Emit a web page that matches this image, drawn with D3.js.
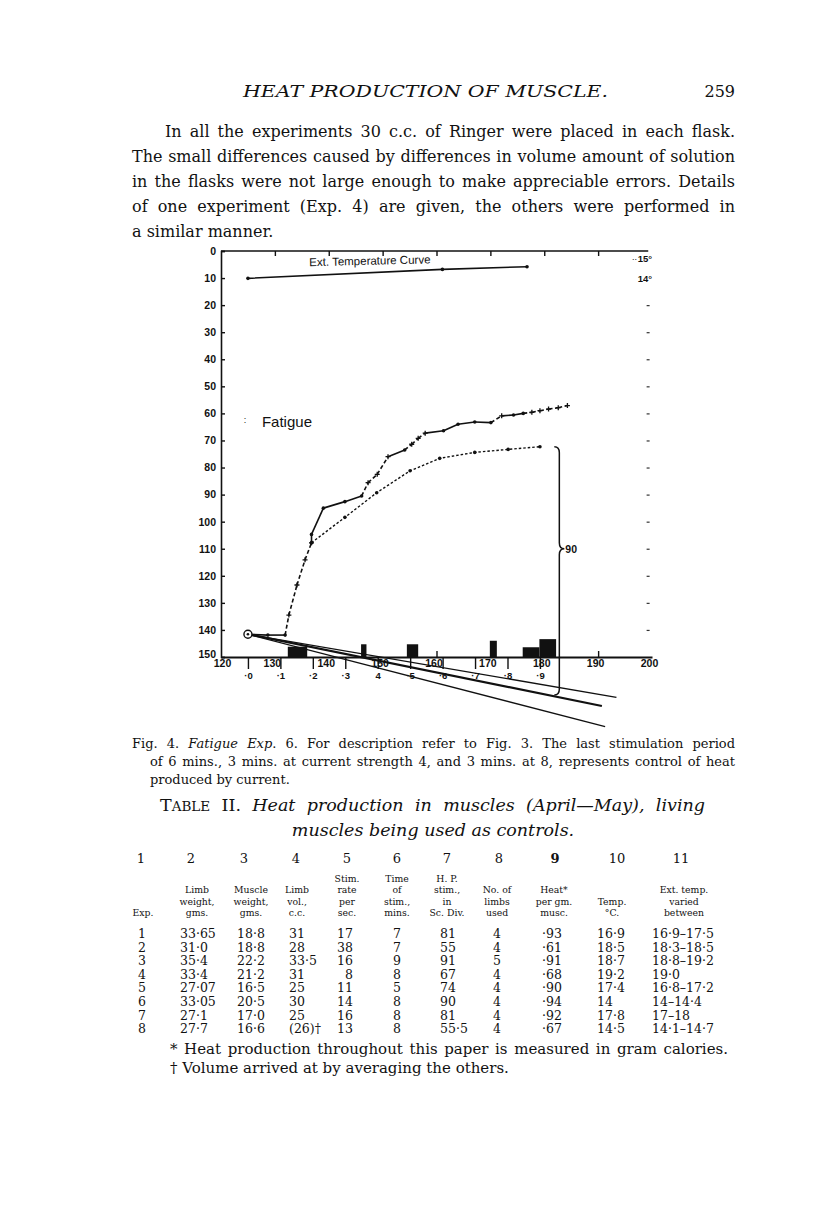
<!DOCTYPE html>
<html><head><meta charset="utf-8">
<script src="https://cdn.jsdelivr.net/npm/d3@7"></script>
<style>body{margin:0;background:#fff;} svg{display:block;} text{fill:#111;}</style>
</head><body>
<svg id="c" width="816" height="1221"></svg>
<script>
// ---------------- data ----------------
const yTicks = [0,10,20,30,40,50,60,70,80,90,100,110,120,130,140,150];
const xTicks = [120,130,140,150,160,170,180,190,200];
const topTicks = [130,140,150,160,170,180,190];
const subTicks = ["·0","·1","·2","·3","4","·5","·6","·7","·8","·9"];
const rightTempLabels = ["15°","14°"];
const rightTempY = [3.9, 11.3];

const tempX = [125, 161.1, 176.8];
const tempY = [10.1, 6.8, 5.8];

// common start (origin -> rise)
const riseX = [125, 128.7, 131.9, 132.6, 134.1, 135.6, 136.8];
const riseY = [141.6, 141.9, 141.9, 134.5, 123.4, 114.1, 107.8];
const riseSeg = ["", "solid", "solid", "dash", "dash", "dash", "dash"];

// upper curve
const upperX = [136.8,136.8,139.0,143.0,146.1,147.3,149.0,151.0,154.1,155.4,156.6,157.9,161.3,164.0,167.1,170.1,172.1,174.3,176.1,177.7,179.2,180.8,182.6,184.3];
const upperY = [107.8,104.7,95.0,92.6,90.5,85.6,82.5,76.0,73.5,71.4,69.2,67.3,66.4,64.0,63.2,63.4,60.9,60.6,60.0,59.6,59.0,58.4,57.9,57.1];
const upperSeg = ["","solid","solid","solid","solid","dash","dash","dash","solid","dash","dash","dash","solid","solid","solid","solid","dash","solid","solid","dash","dash","dash","dash","dash"];

// lower dotted curve
const lowerX = [136.8,143.0,148.9,155.1,160.6,167.1,173.3,179.2];
const lowerY = [107.8,98.4,89.3,81.2,76.6,74.4,73.3,72.3];

// stimulation bars [x0, x1, top]
const barX0 = [132.4,146.0,154.5,169.9,176.0,179.1];
const barX1 = [136.0,147.0,156.6,171.2,179.1,182.2];
const barTop = [146.2,145.3,145.3,144.0,146.4,143.4];

// current-strength lines from origin
const fanEndX = [193.4,190.7,191.3];
const fanEndY = [164.9,168.1,175.7];
const fanWidth = [1.3,2.2,1.3];

// brace
const braceX = 182.8, braceTop = 72.3, braceMid = 110, braceBottom = 164;
const braceLabel = "90";

// table
const colNums = ["1","2","3","4","5","6","7","8","9","10","11"];
const colHeads = [["Exp."],["Limb","weight,","gms."],["Muscle","weight,","gms."],["Limb","vol.,","c.c."],
  ["Stim.","rate","per","sec."],["Time","of","stim.,","mins."],["H. P.","stim.,","in","Sc. Div."],
  ["No. of","limbs","used"],["Heat*","per gm.","musc."],["Temp.","°C."],["Ext. temp.","varied","between"]];
const expNo = ["1","2","3","4","5","6","7","8"];
const limbWeight = ["33·65","31·0","35·4","33·4","27·07","33·05","27·1","27·7"];
const muscleWeight = ["18·8","18·8","22·2","21·2","16·5","20·5","17·0","16·6"];
const limbVol = ["31","28","33·5","31","25","30","25","(26)†"];
const stimRate = ["17","38","16","8","11","14","16","13"];
const stimTime = ["7","7","9","8","5","8","8","8"];
const hpStim = ["81","55","91","67","74","90","81","55·5"];
const limbsUsed = ["4","4","5","4","4","4","4","4"];
const heatPerGm = ["·93","·61","·91","·68","·90","·94","·92","·67"];
const tempC = ["16·9","18·5","18·7","19·2","17·4","14","17·8","14·5"];
const extTemp = ["16·9–17·5","18·3–18·5","18·8–19·2","19·0","16·8–17·2","14–14·4","17–18","14·1–14·7"];

const paraLines = [
  "In all the experiments 30 c.c. of Ringer were placed in each flask.",
  "The small differences caused by differences in volume amount of solution",
  "in the flasks were not large enough to make appreciable errors. Details",
  "of one experiment (Exp. 4) are given, the others were performed in",
  "a similar manner."];

// ---------------- drawing ----------------
const svg = d3.select("#c");
svg.append("rect").attr("width",816).attr("height",1221).attr("fill","#fff");

const serif = "'DejaVu Serif', 'Liberation Serif', serif";
const sans = "'Liberation Sans', Arial, sans-serif";

function fit(t, x0, x1) {
  const n = t.node();
  const w = n.getComputedTextLength();
  const sp = (n.textContent.match(/ /g) || []).length;
  const ws = sp > 0 ? (x1 - x0 - w) / sp : 0;
  if (ws >= -0.5) t.style("word-spacing", ws + "px");
  else t.attr("textLength", x1 - x0).attr("lengthAdjust", "spacingAndGlyphs");
  return t;
}

// header
svg.append("text").attr("x",243).attr("y",97).attr("font-family",serif).attr("font-style","italic")
  .attr("font-size",16).attr("textLength",365).attr("lengthAdjust","spacingAndGlyphs").text("HEAT PRODUCTION OF MUSCLE.");
svg.append("text").attr("x",735).attr("y",97).attr("text-anchor","end").attr("font-family",serif)
  .attr("font-size",16).text("259");

// paragraph
const paraX0 = [165,132,132,132,132];
paraLines.forEach((s,i) => {
  const t = svg.append("text").attr("x",paraX0[i]).attr("y",137 + i*25).attr("font-family",serif)
    .attr("font-size",16).text(s);
  if (i < paraLines.length-1) fit(t, paraX0[i], 735);
});

// ---------------- chart ----------------
const x = d3.scaleLinear().domain([120,200]).range([221,652]);
const y = d3.scaleLinear().domain([0,150]).range([251,657]);
const sx = d3.scaleLinear().domain([0,9]).range([x(125), x(179.2)]);
const g = svg.append("g");

// left axis
const ay = g.append("g").attr("transform",`translate(${x(120)},0)`)
  .call(d3.axisLeft(y).tickValues(yTicks).tickSize(-4).tickPadding(5).tickFormat(d3.format("d")));
ay.select(".domain").attr("stroke","#111").attr("stroke-width",1.6);
ay.selectAll(".tick line").attr("stroke","#111").attr("stroke-width",1.4);
ay.selectAll(".tick text").attr("font-family",sans).attr("font-weight","bold").attr("font-size",10.5).attr("fill","#111")
  .attr("dy", d => d === 150 ? "0.05em" : "0.32em");

// top axis
const at = g.append("g").attr("transform",`translate(0,${y(0)})`)
  .call(d3.axisTop(x).tickValues(topTicks).tickSize(-5).tickFormat(""));
at.select(".domain").attr("d",`M${x(120)},0H${x(199.3)}`).attr("stroke","#111").attr("stroke-width",1.6);
at.selectAll(".tick line").attr("stroke","#111").attr("stroke-width",1.4);

// right small ticks
const ar = g.append("g").attr("transform",`translate(${x(199)},0)`)
  .call(d3.axisRight(y).tickValues(yTicks.filter(v => v >= 20 && v <= 140)).tickSize(3).tickFormat(""));
ar.select(".domain").remove();
ar.selectAll(".tick line").attr("stroke","#333").attr("stroke-width",1.2);
rightTempLabels.forEach((s,i) => {
  g.append("text").attr("x",x(200)).attr("y",y(rightTempY[i])).attr("text-anchor","end")
    .attr("font-family",sans).attr("font-weight","bold").attr("font-size",9.5).text(s);
});
g.append("text").attr("x",x(197.2)).attr("y",y(3.5)).attr("text-anchor","end").attr("font-family",sans)
  .attr("font-size",9).text("..");

// bottom axis (main scale)
const ab = g.append("g").attr("transform",`translate(0,${y(150)})`)
  .call(d3.axisBottom(x).tickValues(xTicks).tickSize(0).tickPadding(3));
ab.select(".domain").attr("stroke","#111").attr("stroke-width",1.8);
ab.selectAll(".tick text").attr("font-family",sans).attr("font-weight","bold").attr("font-size",10.5)
  .attr("fill","#111").attr("dx", d => d === 120 ? 1 : -3);
// small upward ticks on bottom axis
g.append("g").attr("transform",`translate(0,${y(150)})`)
  .call(d3.axisTop(x).tickValues([160,190]).tickSize(6).tickFormat(""))
  .call(s => { s.select(".domain").remove(); s.selectAll("line").attr("stroke","#111").attr("stroke-width",1.4); });

// sub scale ticks (·0 .. ·9)
const as = g.append("g").attr("transform",`translate(0,${y(150)})`)
  .call(d3.axisBottom(sx).tickValues(d3.range(10)).tickSize(12).tickPadding(3).tickFormat(i => subTicks[i]));
as.select(".domain").remove();
as.selectAll(".tick line").attr("stroke","#111").attr("stroke-width",1.4);
as.selectAll(".tick text").attr("font-family",sans).attr("font-weight","bold").attr("font-size",9.5).attr("fill","#111");

// temperature curve
const line = d3.line().x(d => x(d[0])).y(d => y(d[1]));
const tempPts = tempX.map((v,i) => [v, tempY[i]]);
g.append("path").attr("d", line(tempPts)).attr("fill","none").attr("stroke","#111").attr("stroke-width",1.6);
g.selectAll(".tdot").data(tempPts).join("circle").attr("cx",d=>x(d[0])).attr("cy",d=>y(d[1])).attr("r",1.8).attr("fill","#111");
g.append("text").attr("x",x(136.4)).attr("y",y(5.6)).attr("font-family",sans).attr("font-size",11.5)
  .attr("transform",`rotate(-1.3,${x(136.4)},${y(5.6)})`).text("Ext. Temperature Curve");

// fatigue label
g.append("text").attr("x",x(127.6)).attr("y",y(65)).attr("font-family",sans).attr("font-size",15)
  .attr("font-weight","500").text("Fatigue");
g.append("text").attr("x",x(124.2)).attr("y",y(63.5)).attr("font-family",sans).attr("font-size",9).attr("fill","#666").text(":");

// bars
g.selectAll(".bar").data(barX0.map((v,i)=>({x0:v,x1:barX1[i],t:barTop[i]}))).join("rect")
  .attr("x",d=>x(d.x0)).attr("width",d=>x(d.x1)-x(d.x0)).attr("y",d=>y(d.t)).attr("height",d=>y(150)-y(d.t))
  .attr("fill","#111");

// fan lines
fanEndX.forEach((v,i) => {
  g.append("line").attr("x1",x(125)).attr("y1",y(141.6)).attr("x2",x(v)).attr("y2",y(fanEndY[i]))
    .attr("stroke","#111").attr("stroke-width",fanWidth[i]);
});

// segmented curves
function drawSeg(X, Y, S, cls) {
  const segs = d3.range(1, X.length).map(i => ({a:[X[i-1],Y[i-1]], b:[X[i],Y[i]], s:S[i]}));
  g.selectAll("."+cls).data(segs).join("line").attr("class",cls)
    .attr("x1",d=>x(d.a[0])).attr("y1",d=>y(d.a[1])).attr("x2",d=>x(d.b[0])).attr("y2",d=>y(d.b[1]))
    .attr("stroke","#111").attr("stroke-width",1.6)
    .attr("stroke-dasharray",d=>d.s==="solid"?null:"4,2.5");
  const pts = X.map((v,i)=>({x:v,y:Y[i],s:S[i]}));
  pts.forEach(p => {
    const px = x(p.x), py = y(p.y);
    if (p.s === "dash") {
      g.append("path").attr("d",`M${px-2.5},${py}H${px+2.5}M${px},${py-2.5}V${py+2.5}`)
        .attr("stroke","#111").attr("stroke-width",1.3);
    } else {
      g.append("circle").attr("cx",px).attr("cy",py).attr("r",1.8).attr("fill","#111");
    }
  });
}
drawSeg(riseX, riseY, riseSeg, "rise");
drawSeg(upperX, upperY, upperSeg, "upper");

// lower dotted curve
const lowerPts = lowerX.map((v,i)=>[v,lowerY[i]]);
g.append("path").attr("d", line(lowerPts)).attr("fill","none").attr("stroke","#111")
  .attr("stroke-width",1.4).attr("stroke-dasharray","2.5,2");
g.selectAll(".ldot").data(lowerPts).join("circle").attr("cx",d=>x(d[0])).attr("cy",d=>y(d[1])).attr("r",1.8).attr("fill","#111");

// origin circle
g.append("circle").attr("cx",x(125)).attr("cy",y(141.6)).attr("r",4).attr("fill","#fff").attr("stroke","#111").attr("stroke-width",1.4);
g.append("circle").attr("cx",x(125)).attr("cy",y(141.6)).attr("r",1.3).attr("fill","#111");

// brace
{
  const bx = x(braceX), t = y(braceTop), m = y(braceMid), b = y(braceBottom);
  const p = `M${bx-5},${t} Q${bx},${t} ${bx},${t+6} V${m-6} Q${bx},${m} ${bx+5},${m} Q${bx},${m} ${bx},${m+6} V${b-6} Q${bx},${b} ${bx-5},${b}`;
  g.append("path").attr("d",p).attr("fill","none").attr("stroke","#111").attr("stroke-width",1.5);
  g.append("text").attr("x",bx+6).attr("y",m+4).attr("font-family",sans).attr("font-weight","bold")
    .attr("font-size",10.5).text(braceLabel);
}

// ---------------- caption ----------------
{
  const fs = 13;
  const t1 = svg.append("text").attr("x",132).attr("y",748).attr("font-family",serif).attr("font-size",fs);
  t1.append("tspan").text("Fig. 4. ");
  t1.append("tspan").attr("font-style","italic").text("Fatigue Exp");
  t1.append("tspan").text(". 6. For description refer to Fig. 3. The last stimulation period");
  fit(t1, 132, 735);
  const t2 = svg.append("text").attr("x",150).attr("y",766).attr("font-family",serif).attr("font-size",fs)
    .text("of 6 mins., 3 mins. at current strength 4, and 3 mins. at 8, represents control of heat");
  fit(t2, 150, 735);
  svg.append("text").attr("x",150).attr("y",784).attr("font-family",serif).attr("font-size",fs)
    .text("produced by current.");
}

// table title
{
  const t = svg.append("text").attr("x",160).attr("y",811).attr("font-family",serif).attr("font-size",17.5);
  t.append("tspan").text("T");
  t.append("tspan").attr("font-size",13.5).text("ABLE");
  t.append("tspan").text(" II. ");
  t.append("tspan").attr("font-style","italic").text("Heat production in muscles (April—May), living");
  fit(t, 160, 705);
  svg.append("text").attr("x",433).attr("y",836).attr("text-anchor","middle").attr("font-family",serif)
    .attr("font-style","italic").attr("font-size",17.5).text("muscles being used as controls.");
}

// table
{
  const numX = [141,191,244,296,347,397,447,499,555,617,681];
  colNums.forEach((s,i) => {
    svg.append("text").attr("x",numX[i]).attr("y",863).attr("text-anchor","middle").attr("font-family",serif)
      .attr("font-size",13).attr("font-weight", i===8 ? "bold" : "normal").text(s);
  });
  const headX = [143,197,251,297,347,397,447,497,554,612,684];
  colHeads.forEach((lines,i) => {
    lines.forEach((s,j) => {
      svg.append("text").attr("x",headX[i]).attr("y",916 - (lines.length-1-j)*11.3).attr("text-anchor","middle")
        .attr("font-family",serif).attr("font-size",9.3).text(s);
    });
  });
  const cols = [
    {v:expNo, x:142, a:"middle"}, {v:limbWeight, x:180, a:"start"}, {v:muscleWeight, x:237, a:"start"},
    {v:limbVol, x:289, a:"start"}, {v:stimRate, x:353, a:"end"}, {v:stimTime, x:397, a:"middle"},
    {v:hpStim, x:440, a:"start"}, {v:limbsUsed, x:497, a:"middle"}, {v:heatPerGm, x:542, a:"start"},
    {v:tempC, x:597, a:"start"}, {v:extTemp, x:652, a:"start"}];
  cols.forEach(c => {
    c.v.forEach((s,r) => {
      svg.append("text").attr("x",c.x).attr("y",938 + r*13.6).attr("text-anchor",c.a)
        .attr("font-family",serif).attr("font-size",12.5).text(s);
    });
  });
  const f1 = svg.append("text").attr("x",170).attr("y",1054).attr("font-family",serif).attr("font-size",15)
    .text("* Heat production throughout this paper is measured in gram calories.");
  fit(f1, 170, 728);
  svg.append("text").attr("x",170).attr("y",1073).attr("font-family",serif).attr("font-size",15)
    .text("† Volume arrived at by averaging the others.");
}
</script>
</body></html>
